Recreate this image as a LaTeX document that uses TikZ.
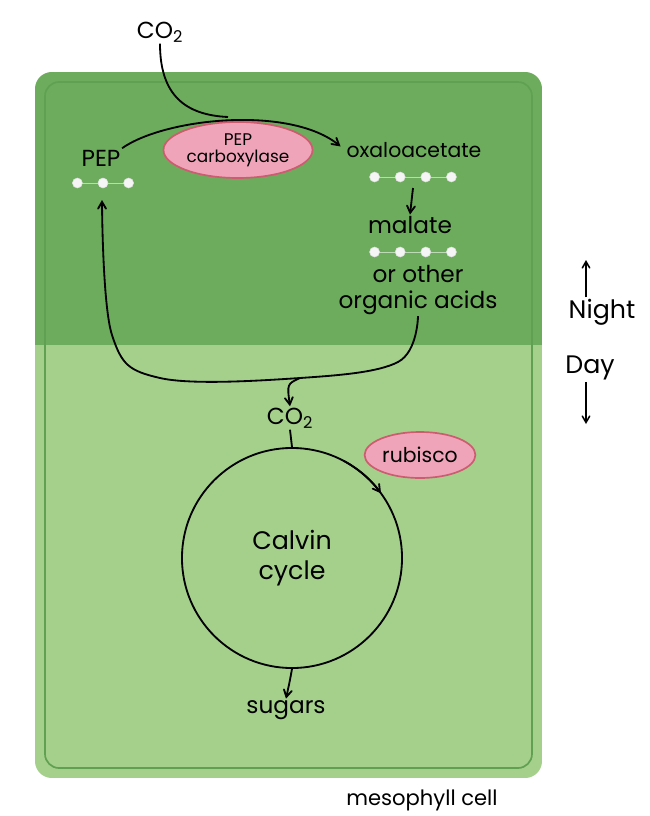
\documentclass[tikz,border=0pt]{standalone}
\usepackage{fontspec}
\setmainfont{Poppins}
\usetikzlibrary{arrows,shapes.geometric}
\definecolor{nightgreen}{RGB}{108,172,92}
\definecolor{daygreen}{RGB}{165,208,140}
\definecolor{rimgreen}{RGB}{96,160,82}
\definecolor{enzpink}{RGB}{240,164,186}
\definecolor{enzline}{RGB}{205,92,112}
\tikzset{
  lbl/.style={font=\fontsize{16.5}{18}\selectfont, inner sep=1pt},
  enzyme/.style={ellipse, draw=enzline, fill=enzpink, line width=1.2pt, font=\fontsize{12}{12}\selectfont, align=center, inner sep=1pt},
  flow/.style={->, line width=1.3pt},
  bead/.style={fill=white!92!gray, draw=white!75!gray, line width=0.4pt}
}
\begin{document}
\begin{tikzpicture}[x=0.025cm, y=-0.025cm, >=angle 60]
  \useasboundingbox (0,0) rectangle (650,816);
  \fill[white] (0,0) rectangle (650,816);
  % the cell, night half on top, day half below
  \begin{scope}
    \clip[rounded corners=12pt] (35,72) rectangle (542,778);
    \fill[nightgreen] (35,72) rectangle (542,345);
    \fill[daygreen] (35,345) rectangle (542,778);
  \end{scope}
  \draw[rimgreen, line width=1.2pt, rounded corners=10pt] (45,82) rectangle (532,768);
  \coordinate (oaadots) at (413,177);
  \coordinate (maldots) at (413,252);
  \coordinate (pepdots) at (103,183);
  \node[lbl] (co2top) at (160,32) {CO\textsubscript{2}};
  \node[lbl] (pep) at (101,158) {PEP};
  \node[enzyme, minimum width=140*0.025cm, minimum height=56*0.025cm] (pepc) at (238,150) {PEP\\carboxylase};
  \node[lbl, font=\fontsize{14.5}{16}\selectfont] (oaa) at (414,150) {oxaloacetate};
  \node[lbl] (malate) at (410,225) {malate};
  \node[lbl, align=center] (acids) at (418,290) {or other\\organic acids};
  \node[lbl] (co2low) at (290,418) {CO\textsubscript{2}};
  \node[enzyme, font=\fontsize{14.5}{15}\selectfont, minimum width=110*0.025cm, minimum height=46*0.025cm] (rubisco) at (420,455) {rubisco};
  \node[circle, draw, line width=1.3pt, minimum size=5.5cm, lbl, font=\fontsize{18}{21}\selectfont, align=center] (calvin) at (292,558) {Calvin\\cycle};
  \node[lbl] (sugars) at (286,710) {sugars};
  \node[lbl, font=\fontsize{18}{20}\selectfont] (night) at (602,312) {Night};
  \node[lbl, font=\fontsize{18}{20}\selectfont] (day) at (590,368) {Day};
  \node[lbl, font=\fontsize{15}{17}\selectfont] (meso) at (422,800) {mesophyll cell};
  % carbon chains
  \foreach \c/\n in {pepdots/3, oaadots/4, maldots/4} {
    \draw[white!55!nightgreen, line width=0.6pt] ([xshift=-(\n-1)*0.32cm]\c) -- ([xshift=(\n-1)*0.32cm]\c);
    \foreach \i in {1,...,\n}
      \filldraw[bead] ([xshift=(\i-1-(\n-1)/2)*0.64cm]\c) circle (5);
  }
  % night reactions
  \coordinate (join) at (228,117);
  \draw[flow, shorten >=4pt] (pep.north east) .. controls (165,118) and (290,105) .. (oaa.west);
  \draw[line width=1.3pt] (co2top.south) .. controls (160,95) and (185,115) .. (join);
  \coordinate (oaab) at (413,188);
  \draw[flow] (oaab) -- (malate.north);
  \coordinate (pepb) at (102,200);
  \coordinate (split) at (300,378);
  \draw[flow] plot[smooth, tension=0.6] coordinates {(acids.south) (398,362) (300,378) (160,378) (112,335) (pepb)};
  \draw[flow] (split) .. controls (287,384) .. (co2low.north);
  % day reactions
  \draw[line width=1.3pt] (co2low.south) -- (calvin.north);
  \draw[flow] ([shift={(62:2.75cm)}]calvin.center) arc[start angle=62, end angle=36, radius=2.75cm];
  \draw[flow] (calvin.south) .. controls (290,680) .. (sugars.north);
  % night / day markers
  \coordinate (nighttip) at (586,260);
  \coordinate (daytip) at (586,424);
  \draw[->, line width=1.1pt] (nighttip |- night.north) -- (nighttip);
  \draw[->, line width=1.1pt] (daytip |- day.south) -- (daytip);
\end{tikzpicture}
\end{document}
